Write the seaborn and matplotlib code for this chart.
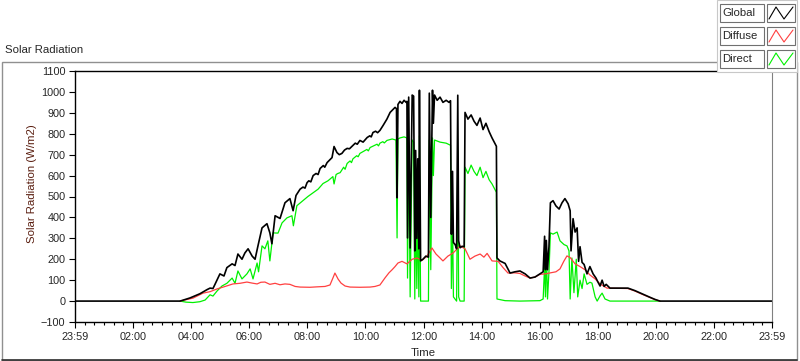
import numpy as np
import pandas as pd
import seaborn as sns
import matplotlib
matplotlib.use('Agg')
import matplotlib.pyplot as plt
from matplotlib.patches import Rectangle
from matplotlib.lines import Line2D
from matplotlib.ticker import FixedLocator, MultipleLocator

# hours since 23:59 of the previous day, values in W/m2
global_t = [0.0, 3.62, 3.96, 4.30, 4.55, 4.65, 4.75, 4.82, 4.99, 5.13, 5.23, 5.41, 5.51, 5.61,
            5.75, 5.85, 5.96, 6.10, 6.20, 6.30, 6.44, 6.61, 6.71, 6.78, 6.89, 6.99, 7.06, 7.16,
            7.23, 7.40, 7.51, 7.61, 7.75, 7.85, 7.92, 7.99, 8.05, 8.12, 8.20, 8.30, 8.37, 8.44,
            8.55, 8.60, 8.68, 8.85, 8.92, 9.02, 9.10, 9.19, 9.28, 9.37, 9.45, 9.57, 9.65, 9.72,
            9.81, 9.92, 10.06, 10.15, 10.20, 10.26, 10.35, 10.42, 10.50, 10.61, 10.74, 10.85,
            11.02, 11.07,
            11.09, 11.12, 11.19, 11.26, 11.33, 11.40, 11.43, 11.45, 11.49, 11.54, 11.61, 11.66,
            11.70, 11.73, 11.77, 11.80, 11.84, 11.86, 11.90, 11.98, 12.08, 12.17, 12.20, 12.25,
            12.31, 12.34, 12.38, 12.47, 12.57, 12.67, 12.78, 12.88, 12.93, 12.96, 13.00, 13.03,
            13.09, 13.14, 13.18, 13.21, 13.26, 13.33, 13.40, 13.43, 13.53, 13.64, 13.74, 13.84,
            13.95, 14.05, 14.15, 14.26, 14.36, 14.46, 14.51, 14.53, 14.63, 14.81, 14.98, 15.15,
            15.32, 15.50, 15.67, 15.84, 16.01, 16.12, 16.17, 16.20, 16.23, 16.27, 16.32, 16.37,
            16.46, 16.56, 16.67, 16.77, 16.87, 16.98, 17.05, 17.08, 17.15, 17.22, 17.29, 17.34,
            17.39, 17.46, 17.53, 17.63, 17.73, 17.84, 17.94, 18.01, 18.08, 18.15, 18.22, 18.29,
            18.42, 19.04, 19.28, 19.52, 19.80, 19.97, 20.14, 24.0]
global_v = [0, 0, 15, 35, 55, 62, 60, 80, 130, 120, 160, 178, 170, 225,
            200, 230, 250, 215, 200, 264, 350, 370, 326, 274, 408, 400, 395, 440,
            470, 490, 432, 505, 535, 545, 540, 566, 575, 570, 600, 610, 605, 634,
            648, 640, 662, 686, 739, 710, 700, 706, 722, 730, 728, 744, 755, 750,
            768, 760, 782, 790, 785, 806, 812, 805, 816, 840, 870, 902,
            926, 920,
            494, 940, 955, 945, 960, 950, 955, 302, 975, 254, 985, 980,
            240, 720, 300, 680, 250, 1008, 192, 200, 215, 210, 994, 400,
            1008, 850, 985, 960, 975, 950, 960, 950, 958, 320, 620, 280,
            270, 250, 984, 288, 255, 262, 260, 902, 870, 890, 860, 840,
            875, 820, 850, 810, 780, 754, 740, 206, 192, 180, 134, 140,
            144, 130, 110, 115, 130, 140, 310, 150, 290, 150, 260, 470,
            480, 455, 440, 470, 490, 465, 432, 240, 394, 330, 350, 190,
            260, 185, 175, 130, 165, 130, 110, 90, 72, 100, 70, 80,
            62, 62, 50, 35, 18, 8, 0, 0]

diffuse_t = [3.62, 4.06, 4.41, 4.65, 4.89, 5.17, 5.44, 5.68, 5.92, 6.10, 6.27, 6.40, 6.54, 6.71,
             6.89, 7.06, 7.23, 7.40, 7.58, 7.75, 8.09, 8.33, 8.61, 8.78, 8.88, 8.95, 9.06, 9.16,
             9.30, 9.47, 9.81, 10.16, 10.33, 10.50, 10.67, 10.81, 10.92, 11.02, 11.12, 11.26,
             11.43, 11.61, 11.78, 11.95, 12.12, 12.29, 12.43, 12.57, 12.67, 12.84, 13.02, 13.16,
             13.26, 13.43, 13.60, 13.77, 13.95, 14.08, 14.19, 14.36, 14.57, 14.74, 14.91, 15.15,
             15.32, 15.50, 15.67, 15.84, 16.01, 16.20, 16.37, 16.56, 16.70, 16.83, 16.94, 17.05,
             17.22, 17.39, 17.56, 17.73, 17.91, 18.08, 18.32, 19.04, 19.28, 19.52, 19.80, 19.97,
             20.14]
diffuse_v = [0, 14, 38, 45, 58, 70, 82, 85, 91, 86, 82, 90, 91, 80,
             85, 78, 82, 80, 70, 67, 66, 68, 70, 77, 110, 134, 105, 86,
             72, 67, 66, 67, 70, 77, 110, 135, 150, 165, 182, 190,
             178, 200, 206, 195, 215, 254, 225, 206, 192, 215, 230, 250,
             264, 250, 200, 215, 225, 210, 228, 192, 190, 160, 134, 135,
             132, 120, 110, 115, 128, 130, 135, 140, 154, 190, 216, 208,
             178, 165, 150, 125, 106, 82, 62, 60, 48, 33, 17, 7,
             0]

direct_t = [3.62, 3.82, 4.06, 4.30, 4.48, 4.65, 4.75, 4.89, 5.06, 5.23, 5.41, 5.51, 5.61, 5.75,
            5.92, 6.03, 6.13, 6.27, 6.32, 6.44, 6.54, 6.64, 6.71, 6.82, 6.99, 7.13, 7.30, 7.47,
            7.52, 7.64, 7.85, 8.02, 8.20, 8.37, 8.54, 8.71, 8.88, 8.92, 8.99, 9.05, 9.13, 9.25,
            9.30, 9.37, 9.47, 9.52, 9.57, 9.70, 9.75, 9.81, 9.99, 10.05, 10.10, 10.16, 10.33,
            10.40, 10.45, 10.50, 10.60, 10.65, 10.74, 10.92, 11.05, 11.09, 11.12, 11.19, 11.33,
            11.43, 11.45, 11.49, 11.54, 11.61, 11.66, 11.70, 11.73, 11.77, 11.80, 11.84, 11.86,
            11.90, 12.17, 12.20, 12.25, 12.31, 12.34, 12.38, 12.57, 12.78, 12.93, 12.96, 13.00,
            13.03, 13.14, 13.18, 13.21, 13.26, 13.40, 13.43, 13.53, 13.64, 13.74, 13.84, 13.95,
            14.05, 14.15, 14.26, 14.36, 14.51, 14.53, 14.81, 15.32, 16.01, 16.12, 16.17, 16.20,
            16.23, 16.27, 16.32, 16.37, 16.46, 16.60, 16.70, 16.84, 16.94, 17.01, 17.05, 17.11,
            17.18, 17.26, 17.31, 17.39, 17.46, 17.53, 17.63, 17.73, 17.80, 17.91, 17.98, 18.08,
            18.15, 18.25, 18.42, 20.14]
direct_v = [0, -5, -7, -3, 5, 30, 24, 48, 72, 85, 110, 85, 144, 106,
            130, 154, 106, 182, 140, 264, 250, 288, 192, 326, 325, 374, 398, 408,
            360, 456, 480, 500, 518, 535, 562, 575, 595, 560, 605, 610, 614, 640,
            630, 658, 670, 662, 680, 695, 690, 706, 720, 725, 718, 734, 745,
            750, 742, 755, 762, 756, 768, 775, 770, 302, 775, 780, 785,
            780, 110, 760, 20, 770, 760, 10, 500, 60, 450, 20, 790,
            0, 0, 770, 150, 780, 600, 770, 760, 755, 745, 60, 400,
            20, 0, 720, 20, 0, 0, 640, 610, 650, 620, 600, 640,
            590, 620, 580, 560, 520, 10, 2, 0, 2, 10, 170, 20,
            250, 10, 140, 326, 320, 330, 288, 270, 264, 240, 10, 206,
            40, 200, 20, 100, 60, 130, 80, 90, 86, 20, 0, 25,
            38, 10, 0, 0]

tick_hours = list(range(0, 25, 2))
tick_labels = ['23:59', '02:00', '04:00', '06:00', '08:00', '10:00', '12:00',
               '14:00', '16:00', '18:00', '20:00', '22:00', '23:59']

sns.set_style('white')
plt.rcParams['font.family'] = ['Liberation Sans', 'DejaVu Sans']

W, H = 800, 361
fig = plt.figure(figsize=(8, 3.61), dpi=100)
ax = fig.add_axes([75 / W, 1 - 322 / H, 697 / W, 251 / H])

glob = pd.DataFrame({'hour': global_t, 'value': global_v})
diff = pd.DataFrame({'hour': diffuse_t, 'value': diffuse_v})
dire = pd.DataFrame({'hour': direct_t, 'value': direct_v})

sns.lineplot(data=dire, x='hour', y='value', color='#00f000', lw=0.9,
             estimator=None, sort=False, ax=ax)
sns.lineplot(data=diff, x='hour', y='value', color='#ff4040', lw=0.9,
             estimator=None, sort=False, ax=ax)
sns.lineplot(data=glob, x='hour', y='value', color='black', lw=1.2,
             estimator=None, sort=False, ax=ax)

ax.set_xlim(0, 24)
ax.set_ylim(-100, 1100)
ax.set_xlabel('')
ax.set_ylabel('')
ax.yaxis.set_major_locator(MultipleLocator(100))
ax.xaxis.set_major_locator(FixedLocator(tick_hours))
ax.xaxis.set_minor_locator(MultipleLocator(1 / 3))
ax.set_xticklabels(tick_labels)
ax.tick_params(axis='both', which='major', direction='out', length=4, width=0.8,
               color='black', labelsize=7.8, pad=3, bottom=True, left=True)
ax.tick_params(axis='x', which='minor', direction='out', length=2.5, width=0.8,
               color='black', bottom=True)

for side in ['left', 'bottom', 'top']:
    ax.spines[side].set_color('black')
    ax.spines[side].set_linewidth(1.0)
ax.spines['right'].set_color('#808080')
ax.spines['right'].set_linewidth(0.8)

# outer panel frame
fig.add_artist(Rectangle((2 / W, 1 - 360 / H), 795 / W, 298 / H, transform=fig.transFigure,
                         fill=False, edgecolor='#909090', lw=1.0))
fig.add_artist(Line2D([2 / W, 797 / W], [1 - 359.5 / H] * 2, transform=fig.transFigure,
                      color='#303030', lw=1.2))

fig.text(5 / W, 1 - 50 / H, 'Solar Radiation', fontsize=8.2, ha='left', va='center')
fig.text(32 / W, 1 - 184 / H, 'Solar Radiation (W/m2)', fontsize=8.2, rotation=90,
         ha='center', va='center', color='#5a1e10')
fig.text(423 / W, 1 - 353 / H, 'Time', fontsize=8.2, ha='center', va='center')

# legend panel, LabVIEW style
fig.add_artist(Rectangle((717 / W, 1 - 72 / H), 80 / W, 72 / H, transform=fig.transFigure,
                         facecolor='white', edgecolor='#c8c8c8', lw=0.8, zorder=5))
names = ['Global', 'Diffuse', 'Direct']
colors = ['black', '#ff4040', '#00f000']
for i, (name, col) in enumerate(zip(names, colors)):
    top = 4 + i * 23
    fig.add_artist(Rectangle((720 / W, 1 - (top + 18) / H), 44 / W, 18 / H,
                             transform=fig.transFigure, facecolor='white',
                             edgecolor='#707070', lw=0.8, zorder=6))
    fig.add_artist(Rectangle((767 / W, 1 - (top + 18) / H), 28 / W, 18 / H,
                             transform=fig.transFigure, facecolor='white',
                             edgecolor='#707070', lw=0.8, zorder=6))
    zx = np.array([769, 776, 784, 793]) / W
    zy = 1 - np.array([top + 15, top + 3, top + 15, top + 3]) / H
    fig.add_artist(Line2D(zx, zy, transform=fig.transFigure, color=col, lw=0.8, zorder=7))
    fig.text(722 / W, 1 - (top + 9) / H, name, fontsize=8.2, ha='left', va='center',
             zorder=7)

fig.savefig('out.png', dpi=100)
